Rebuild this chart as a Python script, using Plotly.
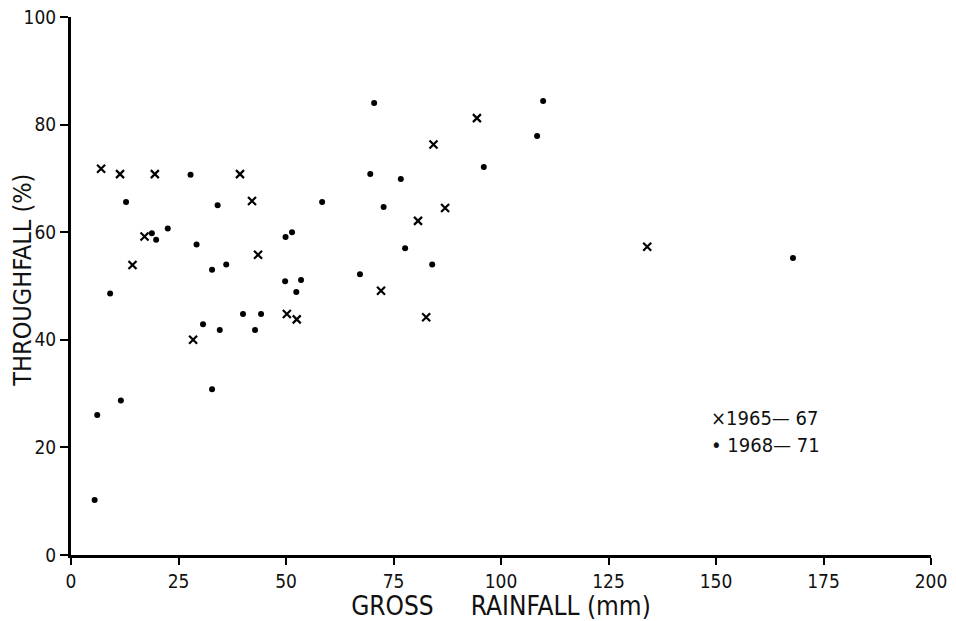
import plotly.graph_objects as go

# 1965-67 (crosses)
x_6567 = [7.0, 11.4, 19.5, 39.3, 42.1, 17.1, 14.3, 43.5, 28.4, 50.2, 52.5, 72.1, 82.6, 80.7, 87.0, 84.3, 94.4, 134.0]
y_6567 = [71.8, 70.8, 70.8, 70.8, 65.8, 59.2, 53.9, 55.8, 40.0, 44.8, 43.8, 49.1, 44.2, 62.1, 64.5, 76.3, 81.2, 57.3]

# 1968-71 (dots)
x_6871 = [5.5, 6.1, 9.1, 11.6, 12.8, 18.8, 19.8, 22.5, 27.8, 29.2, 30.7, 32.8, 32.8, 34.1, 34.6, 36.1,
          40.0, 42.8, 44.2, 49.9, 51.4, 49.8, 52.4, 53.5, 58.4, 67.2, 69.6, 70.5, 72.7, 76.7, 77.7,
          84.0, 96.0, 108.4, 109.8, 167.9]
y_6871 = [10.2, 26.0, 48.6, 28.7, 65.6, 59.8, 58.6, 60.7, 70.7, 57.7, 42.9, 30.8, 53.0, 65.0, 41.8, 54.0,
          44.8, 41.8, 44.8, 59.1, 60.0, 50.9, 48.9, 51.1, 65.6, 52.2, 70.8, 84.0, 64.7, 69.9, 57.0,
          54.0, 72.1, 77.9, 84.4, 55.2]

x_ticks = [0, 25, 50, 75, 100, 125, 150, 175, 200]
y_ticks = [0, 20, 40, 60, 80, 100]

FONT = "Liberation Sans Narrow, DejaVu Sans Condensed, Arial Narrow, sans-serif"

fig = go.Figure()
fig.add_trace(go.Scatter(
    x=x_6567, y=y_6567, mode="markers", name="1965–67",
    marker=dict(symbol="x-thin", size=8, color="black", line=dict(width=2.2, color="black")),
))
fig.add_trace(go.Scatter(
    x=x_6871, y=y_6871, mode="markers", name="1968–71",
    marker=dict(symbol="circle", size=6, color="black", line=dict(width=0)),
))

axis_common = dict(
    showgrid=False, zeroline=False, showline=True, linecolor="black", linewidth=3,
    ticks="outside", tickcolor="black", tickwidth=2, mirror=False, automargin=False,
    ticklabeloverflow="allow",
    tickfont=dict(family=FONT, size=19, color="#111"),
)

fig.update_xaxes(
    range=[0, 200], tickvals=x_ticks, ticklen=7,
    title=dict(text="GROSS\u00a0\u00a0\u00a0\u00a0\u00a0RAINFALL (mm)", font=dict(family=FONT, size=26, color="#111"), standoff=2),
    **axis_common,
)
fig.update_yaxes(
    range=[0, 100], tickvals=y_ticks, ticklen=8,
    **axis_common,
)

# y-axis title placed as a rotated annotation to match the reference position
fig.add_annotation(x=-0.0558, y=0.51, xref="paper", yref="paper", xanchor="center", yanchor="middle",
                   text="THROUGHFALL (%)", textangle=-90, showarrow=False,
                   font=dict(family=FONT, size=25, color="#111"))

fig.add_annotation(x=0.742, y=0.254, xref="paper", yref="paper", xanchor="left", yanchor="middle",
                   text="\u00d71965\u2014 67", showarrow=False,
                   font=dict(family=FONT, size=20, color="#111"))
fig.add_annotation(x=0.742, y=0.204, xref="paper", yref="paper", xanchor="left", yanchor="middle",
                   text="\u2022 1968\u2014 71", showarrow=False,
                   font=dict(family=FONT, size=20, color="#111"))

fig.update_layout(
    width=956, height=621,
    margin=dict(l=71, r=25, t=17, b=66),
    paper_bgcolor="white", plot_bgcolor="white",
    showlegend=False,
)

fig.write_html("out.html", config={"displayModeBar": False},
               post_script="document.body.style.margin='0';document.body.style.overflow='hidden';")
